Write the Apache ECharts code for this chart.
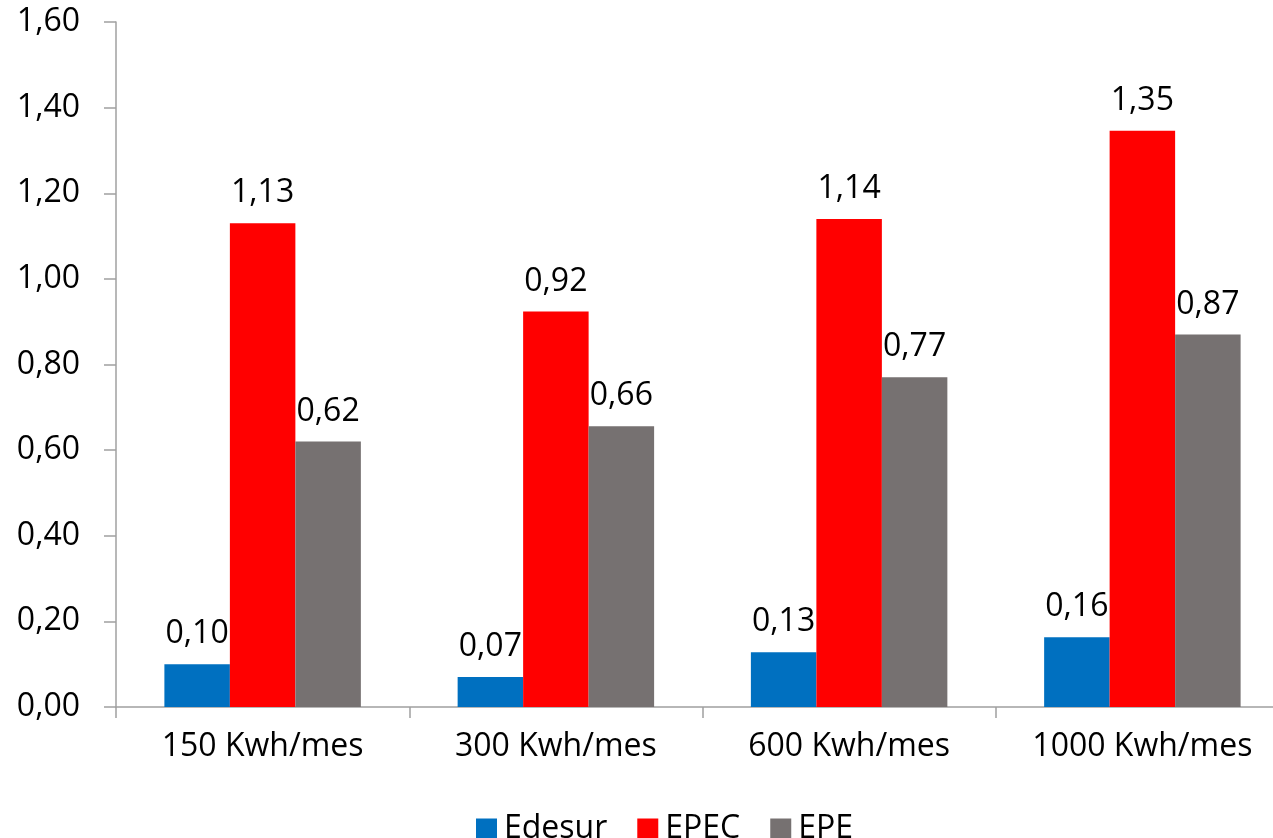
<!DOCTYPE html>
<html>
<head>
<meta charset="utf-8">
<script src="https://cdn.jsdelivr.net/npm/echarts@6/dist/echarts.min.js"></script>
<style>
html,body{margin:0;padding:0;background:#fff;overflow:hidden;}
#chart{width:1273px;height:838px;}
</style>
</head>
<body>
<div id="chart"></div>
<script>
const categories = ['150 Kwh/mes', '300 Kwh/mes', '600 Kwh/mes', '1000 Kwh/mes'];
const edesur = [0.10, 0.07, 0.128, 0.163];
const epec = [1.13, 0.924, 1.14, 1.346];
const epe = [0.62, 0.656, 0.77, 0.87];
const yTicks = [0, 0.2, 0.4, 0.6, 0.8, 1.0, 1.2, 1.4, 1.6];

const FONT = '"Open Sans", "Noto Sans", sans-serif';
const fmt = v => Number(v).toFixed(2).replace('.', ',');

const chart = echarts.init(document.getElementById('chart'));
const labelCfg = {
  show: true, position: 'top', distance: 14,
  color: '#000', fontSize: 32, fontFamily: FONT,
  formatter: p => fmt(p.value)
};
function mk(name, data, color) {
  return {
    name, type: 'bar', data,
    barGap: '0%', barCategoryGap: '33%',
    itemStyle: { color },
    label: labelCfg
  };
}
chart.setOption({
  animation: false,
  textStyle: { fontFamily: FONT },
  grid: { left: 116, width: 1173, top: 22, height: 685, containLabel: false, outerBoundsMode: 'none' },
  legend: {
    data: ['Edesur', 'EPEC', 'EPE'],
    left: 471, top: 808,
    itemWidth: 21, itemHeight: 21, itemGap: 30,
    icon: 'rect',
    textStyle: { fontSize: 32, color: '#000', fontFamily: FONT, padding: [0, 0, 0, 2] }
  },
  xAxis: {
    type: 'category', data: categories,
    axisLine: { lineStyle: { color: '#A0A0A0', width: 1.5 } },
    axisTick: { show: true, length: 11, lineStyle: { color: '#A0A0A0', width: 1.5 } },
    axisLabel: { color: '#000', fontSize: 32, fontFamily: FONT, margin: 24 }
  },
  yAxis: {
    type: 'value', min: yTicks[0], max: yTicks[yTicks.length - 1], interval: 0.2,
    axisLine: { show: true, lineStyle: { color: '#A0A0A0', width: 1.5 } },
    axisTick: { show: true, length: 12, lineStyle: { color: '#A0A0A0', width: 1.5 } },
    splitLine: { show: false },
    axisLabel: { color: '#000', fontSize: 32, fontFamily: FONT, margin: 36, formatter: v => fmt(v) }
  },
  series: [
    mk('Edesur', edesur, '#0070C0'),
    mk('EPEC', epec, '#FF0000'),
    mk('EPE', epe, '#767171')
  ]
});
</script>
</body>
</html>
